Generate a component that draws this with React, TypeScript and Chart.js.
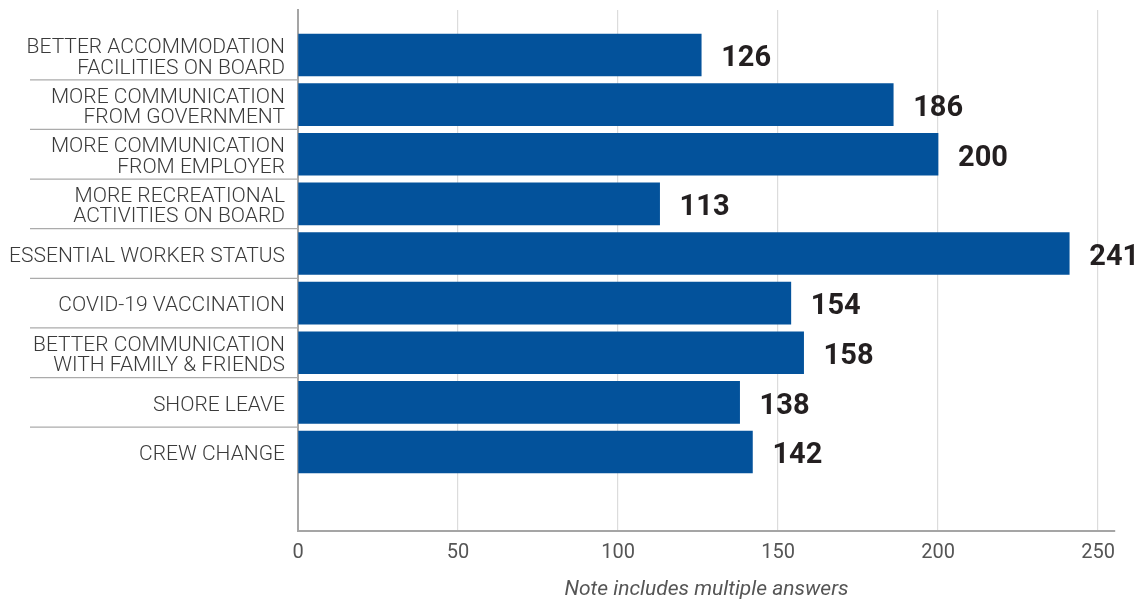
import React, { useEffect, useRef } from "react";
import { Chart, registerables } from "chart.js";

Chart.register(...registerables);

const categories: string[][] = [
  ["BETTER ACCOMMODATION", "FACILITIES ON BOARD"],
  ["MORE COMMUNICATION", "FROM GOVERNMENT"],
  ["MORE COMMUNICATION", "FROM EMPLOYER"],
  ["MORE RECREATIONAL", "ACTIVITIES ON BOARD"],
  ["ESSENTIAL WORKER STATUS"],
  ["COVID-19 VACCINATION"],
  ["BETTER COMMUNICATION", "WITH FAMILY & FRIENDS"],
  ["SHORE LEAVE"],
  ["CREW CHANGE"],
];
const values: number[] = [126, 186, 200, 113, 241, 154, 158, 138, 142];
const xTicks: number[] = [0, 50, 100, 150, 200, 250];
const noteText = "Note includes multiple answers";

const BAR_COLOR = "#03529B";
const FONT = "Roboto, 'DejaVu Sans', sans-serif";
const LABEL_LINE = 20.6;

const overlayPlugin = {
  id: "overlay",
  afterDatasetsDraw(chart: any) {
    const { ctx, chartArea } = chart;
    const yScale = chart.scales.y;
    ctx.save();
    // separators between category labels
    ctx.strokeStyle = "#ababab";
    ctx.lineWidth = 1.2;
    for (let i = 0; i < categories.length - 1; i++) {
      const y = (yScale.getPixelForValue(i) + yScale.getPixelForValue(i + 1)) / 2;
      ctx.beginPath();
      ctx.moveTo(30, y);
      ctx.lineTo(chartArea.left, y);
      ctx.stroke();
    }
    // category labels
    ctx.fillStyle = "#3a3a3a";
    ctx.font = `300 21px ${FONT}`;
    ctx.textAlign = "right";
    ctx.textBaseline = "middle";
    categories.forEach((lines, i) => {
      const cy = yScale.getPixelForValue(i) + 3;
      const start = cy - ((lines.length - 1) * LABEL_LINE) / 2;
      lines.forEach((line, j) => {
        ctx.fillText(line, chartArea.left - 13, start + j * LABEL_LINE);
      });
    });
    // value labels
    const meta = chart.getDatasetMeta(0);
    ctx.fillStyle = "#231f20";
    ctx.font = `bold 29px ${FONT}`;
    ctx.textAlign = "left";
    ctx.textBaseline = "middle";
    meta.data.forEach((bar: any, i: number) => {
      ctx.fillText(String(values[i]), bar.x + 20, bar.y + 4);
    });
    ctx.restore();
  },
};

export default function App() {
  const canvasRef = useRef<HTMLCanvasElement | null>(null);

  useEffect(() => {
    const canvas = canvasRef.current;
    if (!canvas) return;
    const chart = new Chart(canvas, {
      type: "bar",
      data: {
        datasets: [
          {
            data: values.map((v, i) => ({ x: v, y: i })) as any,
            backgroundColor: BAR_COLOR,
            barThickness: 42,
            borderWidth: 0,
          },
        ],
      },
      options: {
        indexAxis: "y",
        animation: false,
        responsive: false,
        maintainAspectRatio: false,
        layout: { padding: { top: 10, right: 25, left: 0, bottom: 0 } },
        plugins: {
          legend: { display: false },
          tooltip: { enabled: false },
        },
        scales: {
          x: {
            type: "linear",
            min: 0,
            max: 255.3,
            offset: false,
            afterBuildTicks: (scale: any) => {
              scale.ticks = xTicks.map((v) => ({ value: v }));
            },
            afterFit: (scale: any) => {
              scale.height = 71;
              scale.paddingLeft = 0;
              scale.paddingRight = 0;
            },
            grid: {
              color: (ctx: any) => (ctx.tick && ctx.tick.value === 0 ? "rgba(0,0,0,0)" : "#dcdcdc"),
              lineWidth: 1.2,
              drawTicks: false,
              offset: false,
            },
            border: { display: true, color: "#a5a5a5", width: 2 },
            ticks: {
              padding: 10,
              color: "#555555",
              font: { family: FONT, size: 20 },
              maxRotation: 0,
            },
            title: {
              display: true,
              text: noteText,
              color: "#555555",
              font: { family: FONT, size: 21, style: "italic" },
              padding: { top: 0, bottom: 0 },
            },
          },
          y: {
            type: "linear",
            reverse: true,
            min: -0.907,
            max: 9.592,
            offset: false,
            afterBuildTicks: (scale: any) => {
              scale.ticks = categories.map((_, i) => ({ value: i }));
            },
            afterFit: (scale: any) => {
              scale.width = 298;
              scale.paddingTop = 0;
              scale.paddingBottom = 0;
            },
            grid: { display: false, drawTicks: false, offset: false },
            border: { display: true, color: "#a5a5a5", width: 2 },
            ticks: { display: false },
          },
        },
      },
      plugins: [overlayPlugin],
    });
    return () => chart.destroy();
  }, []);

  return (
    <div style={{ position: "absolute", left: 0, top: 0, width: 1140, height: 602, background: "#fff" }}>
      <canvas ref={canvasRef} width={1140} height={602} style={{ width: 1140, height: 602 }} />
    </div>
  );
}
